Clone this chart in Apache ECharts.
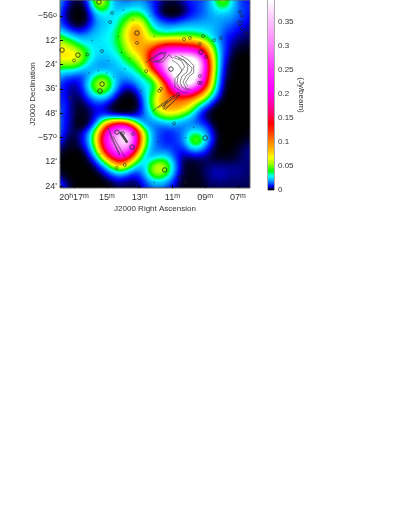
<!DOCTYPE html>
<html>
<head>
<meta charset="utf-8">
<script src="https://cdn.jsdelivr.net/npm/echarts@6/dist/echarts.min.js"></script>
<style>
  html, body { margin: 0; padding: 0; background: #fff; overflow: hidden; }
  #field { position: absolute; left: 60px; top: 0; width: 190px; height: 188px; overflow: hidden; background: #000; }
  #heat { position: absolute; left: -8px; top: -8px; width: 208px; height: 200px; filter: url(#cmap); }
  #main { position: absolute; left: 0; top: 0; width: 407px; height: 527px; }
</style>
</head>
<body>
<div id="field"><div id="heat"></div></div>
<div id="main"></div>
<svg width="0" height="0" style="position:absolute">
  <filter id="cmap" x="-5%" y="-5%" width="110%" height="110%" color-interpolation-filters="sRGB">
    <feGaussianBlur stdDeviation="4"></feGaussianBlur>
    <feComponentTransfer>
      <feFuncR id="fr" type="table"></feFuncR>
      <feFuncG id="fg" type="table"></feFuncG>
      <feFuncB id="fb" type="table"></feFuncB>
    </feComponentTransfer>
  </filter>
</svg>
<script>
// axis ticks
var raTicks = [17, 15, 13, 11, 9, 7];
var raLabels = ['{n|20}{s|h}{n|17}{s|m}', '{n|15}{s|m}', '{n|13}{s|m}', '{n|11}{s|m}', '{n|09}{s|m}', '{n|07}{s|m}'];
var decTicks = [0, 12, 24, 36, 48, 60, 72, 84];   // arcmin south of -56 deg
var decLabels = ['{n|\u221256}{s|o}', "{n|12'}", "{n|24'}", "{n|36'}", "{n|48'}", '{n|\u221257}{s|o}', "{n|12'}", "{n|24'}"];
var barTicks = [0, 0.05, 0.1, 0.15, 0.2, 0.25, 0.3, 0.35];

// colour table of the wedge: [Jy/beam, colour]
var colorStops = [
  [0, '#000000'], [0.002, '#000030'], [0.008, '#0000ff'], [0.019, '#00a0ff'],
  [0.029, '#00ffff'], [0.034, '#00ff80'], [0.040, '#00ff00'], [0.054, '#a0ff00'],
  [0.068, '#ffff00'], [0.082, '#ffc000'], [0.102, '#ff8000'], [0.123, '#ff3000'],
  [0.138, '#ff0000'], [0.158, '#ff0060'], [0.186, '#ff00c0'], [0.21, '#ff00ff'],
  [0.25, '#ff30ff'], [0.30, '#ff80ff'], [0.35, '#ffc0ff'], [0.395, '#ffffff'], [0.5, '#ffffff']
];
var fluxCeil = 0.5;

// flux map in mJy/beam, north row first, east column first
var heatRows = [
  [30,15,5,3,15,65,60,25,15,12,15,15,10,6,4,5,8,12,12,15,40,65,30,12,8,5],
  [30,12,3,1,10,60,65,25,18,18,22,20,12,5,2,2,5,10,12,18,35,50,28,12,10,8],
  [22,8,1,0,5,28,32,26,26,32,35,28,15,3,0,0,2,8,12,18,25,28,22,15,10,8],
  [18,8,1,0,3,18,24,26,32,45,65,50,22,12,8,8,12,15,16,18,20,18,18,13,8,5],
  [22,14,6,3,10,20,25,28,38,70,100,70,35,25,22,24,26,26,25,25,22,16,12,8,6,4],
  [50,35,26,18,20,24,28,30,45,75,105,80,50,40,40,42,42,42,38,30,20,12,8,5,4,3],
  [70,58,48,32,28,26,28,30,42,65,95,85,85,120,135,135,125,120,105,65,30,12,5,3,2,2],
  [80,78,72,60,38,26,26,28,36,55,78,95,155,210,240,255,245,235,195,110,40,12,4,1,1,1],
  [70,68,72,62,35,24,20,24,28,40,50,85,175,270,370,470,500,500,370,150,45,10,2,0,0,0],
  [45,38,42,32,22,18,16,20,24,30,36,55,150,230,380,480,500,500,400,170,45,8,1,0,0,0],
  [26,16,14,11,16,35,45,25,18,22,28,35,50,150,280,460,500,490,330,150,40,6,1,0,0,0],
  [16,9,5,7,28,60,70,40,15,10,18,30,28,60,150,350,480,420,280,125,35,5,0,0,0,0],
  [11,9,4,5,20,45,48,28,8,2,6,25,35,75,115,180,225,195,135,75,25,3,0,0,0,0],
  [9,11,4,2,10,18,20,10,1,0,1,18,45,85,100,105,105,95,65,35,10,1,0,0,0,0],
  [14,13,4,1,3,8,5,1,0,0,1,15,40,80,100,100,85,55,22,8,1,0,0,0,0,0],
  [25,9,5,1,2,8,12,8,6,5,6,14,28,45,55,50,38,25,8,2,0,0,0,0,0,0],
  [25,9,5,0,2,15,75,140,175,140,50,16,14,16,22,20,16,14,14,8,1,0,0,0,0,0],
  [25,9,3,4,15,55,160,270,350,370,200,55,20,12,9,12,16,30,30,16,4,0,0,0,1,1],
  [13,7,1,5,18,65,190,290,380,420,220,65,20,12,8,11,18,55,55,22,5,0,0,1,2,2],
  [7,3,1,3,12,50,160,260,340,340,175,50,18,13,13,10,11,30,30,11,2,0,1,2,5,4],
  [2,1,0,0,6,25,90,180,235,190,90,26,18,24,24,10,4,6,6,4,1,1,1,3,5,4],
  [1,0,0,0,1,8,28,70,115,80,32,22,46,62,48,18,2,1,2,3,4,4,4,4,4,4],
  [2,1,0,0,0,2,8,22,35,22,12,20,58,70,48,16,2,1,2,5,7,6,5,5,4,4],
  [11,5,1,0,0,0,2,5,8,5,4,12,28,32,24,9,1,1,1,4,5,5,4,4,3,3],
  [18,11,2,0,0,0,0,1,3,2,2,8,14,15,11,5,1,1,1,3,3,3,3,3,3,3]
];

// compact sources: [RA minutes past 20h, arcmin south of -56 deg]
var smallSources = [
  [14.68, -1.5], [14.8, 3], [15.29, 17.3], [13.16, 13.3], [12.6, 27.2], [10.29, 11.4], [9.93, 10.8],
  [9.13, 9.9], [9.32, 13.8], [8.46, 11.9], [8.04, 10.9], [8.95, 20.2], [6.76, 6.4], [6.51, 8.5],
  [6.88, -2], [6.76, 0], [9.32, 29.6], [9.38, 33], [9.26, 33], [11.7, 36], [10.66, 38.5],
  [17.24, 40.5], [14.02, 57.8], [13.4, 58.2], [14.4, 75], [13.9, 73.5], [10.9, 53], [10.6, 79.5], [10.2, 82],
  [11.8, 37], [17, 22], [16.2, 19]
];
var largeSources = [
  [15.48, -6.9], [13.16, 8.4], [17.73, 16.8], [16.76, 19.3], [15.29, 33.6], [15.41, 37],
  [11.09, 26.2], [9.26, 17.8], [6.88, 3.5], [14.38, 57.3], [13.46, 64.7], [9.0, 60.2], [11.47, 76]
];
var dotSources = [
  [16.5, 2], [15.9, 12], [14.9, 22], [14.1, 18], [13.6, 21], [13.9, 26], [16.1, 28], [15.5, 27], [15, 28],
  [14.3, 10], [13.4, 2], [14, -3], [12.4, 0], [12.1, 10], [11.4, 14], [12.9, 37], [13.4, 45], [14.6, 30],
  [16.8, 48], [17.1, 38], [8.4, 52], [7.9, 62], [6.4, 56], [9.7, 55], [9.5, 68], [8.2, 75], [11.9, 62],
  [12.8, 48], [10.2, 60], [10.4, 72], [12.1, 82], [14.9, 82], [15.4, 68], [8.6, 42], [7.2, 30], [6.5, 22]
];

// radio contours over the bright regions
var contours = [
  [[10.84, 19.8], [10.54, 20.7], [10.17, 22.7], [9.8, 25.7], [9.87, 27.7], [10.17, 29.6], [10.35, 32.6], [10.17, 35.6], [9.87, 36.5]],
  [[11.02, 21.7], [10.66, 23.7], [10.41, 26.7], [10.66, 29.6], [10.72, 33.6], [10.54, 35.6]],
  [[10.66, 20.7], [10.29, 21.7], [10.05, 24.7], [10.11, 27.7], [10.41, 29.6], [10.54, 32.6], [10.41, 35.1], [10.05, 37]],
  [[10.95, 20.5], [10.45, 22], [10.25, 25], [10.5, 28], [10.85, 31], [10.85, 35], [10.4, 37.5], [10.1, 38]],
  [[10.5, 19.5], [10.05, 21.5], [9.7, 24.5], [9.7, 28], [10.0, 30], [10.2, 33], [10.05, 34.5]],
  [[12.37, 21.7], [12.0, 19.3], [11.63, 17.8], [11.45, 19.8], [11.76, 21.7], [12.18, 22.7], [12.37, 21.7]],
  [[12.12, 20.7], [11.76, 18.8], [11.39, 17.8], [11.51, 20.7], [11.94, 22.7]],
  [[12.6, 23], [12.25, 20.5], [11.9, 23], [11.55, 22.5], [11.2, 19], [11.0, 21]],
  [[11.88, 45.4], [11.45, 43], [11.15, 40.5], [10.84, 39], [11.27, 42.5], [11.63, 44.9], [11.02, 41], [10.54, 39], [11.45, 46.4]],
  [[12.2, 47], [11.75, 44], [11.3, 41.5], [11.55, 46], [11.1, 43.5], [10.7, 40.5]],
  [[14.93, 55.3], [14.74, 58.8], [14.56, 62.2], [14.38, 66.2], [14.2, 68.6], [14.38, 65.2], [14.68, 61.2], [14.8, 57.3]],
  [[14.62, 59.3], [14.32, 63.7], [14.07, 67.2], [13.89, 69.6]]
];
var heavyContour = [[14.2, 57.3], [14.0, 59.5], [13.75, 62.5]];

var barTop = 0.395;

// colour at a given flux, from the wedge stops
function colourAt(v) {
  var i = 1;
  while (i < colorStops.length - 1 && colorStops[i][0] < v) { i++; }
  var a = colorStops[i - 1], b = colorStops[i];
  var t = Math.min(1, Math.max(0, (v - a[0]) / (b[0] - a[0])));
  var out = [];
  for (var k = 0; k < 3; k++) {
    var c0 = parseInt(a[1].substr(1 + k * 2, 2), 16);
    var c1 = parseInt(b[1].substr(1 + k * 2, 2), 16);
    out.push((c0 + (c1 - c0) * t) / 255);
  }
  return out;
}

// the grey heatmap (sqrt of flux) is blurred then recoloured by this table
var tableR = [], tableG = [], tableB = [];
for (var n = 0; n <= 255; n++) {
  var rgb = colourAt(fluxCeil * Math.pow(n / 255, 2));
  tableR.push(rgb[0].toFixed(3));
  tableG.push(rgb[1].toFixed(3));
  tableB.push(rgb[2].toFixed(3));
}
document.getElementById('fr').setAttribute('tableValues', tableR.join(' '));
document.getElementById('fg').setAttribute('tableValues', tableG.join(' '));
document.getElementById('fb').setAttribute('tableValues', tableB.join(' '));

var heatData = [];
heatRows.forEach(function (row, j) {
  row.forEach(function (v, i) {
    heatData.push([i, j, Math.sqrt(v / 1000 / fluxCeil)]);
  });
});
var colIds = heatRows[0].map(function (v, i) { return i; });
var rowIds = heatRows.map(function (r, j) { return j; });

var heat = echarts.init(document.getElementById('heat'));
heat.setOption({
  animation: false,
  grid: { left: 0, right: 0, top: 0, bottom: 0 },
  xAxis: { type: 'category', data: colIds, show: false },
  yAxis: { type: 'category', data: rowIds, inverse: true, show: false },
  visualMap: { show: false, min: 0, max: 1, inRange: { color: ['#000000', '#ffffff'] } },
  series: [{ type: 'heatmap', data: heatData, progressive: 0, itemStyle: { borderWidth: 0 } }]
});

var sans = '"Liberation Sans", Arial, sans-serif';
var ink = '#333';
var richLabel = {
  n: { fontSize: 9, fontFamily: sans, color: ink },
  s: { fontSize: 7, fontFamily: sans, color: ink, verticalAlign: 'top', lineHeight: 9 }
};

function contourSeries(pts, width, colour) {
  return {
    type: 'line', data: pts, symbol: 'none', silent: true, clip: true,
    lineStyle: { color: colour, width: width }, xAxisIndex: 0, yAxisIndex: 0
  };
}
var series = contours.map(function (pts) { return contourSeries(pts, 0.6, '#333'); });
series.push(contourSeries(heavyContour, 2.5, '#444'));
series.push({
  type: 'scatter', data: smallSources, symbolSize: 3,
  itemStyle: { color: 'rgba(0,0,0,0)', borderColor: '#222', borderWidth: 0.7 }
});
series.push({
  type: 'scatter', data: largeSources, symbolSize: 4.5,
  itemStyle: { color: 'rgba(0,0,0,0)', borderColor: '#222', borderWidth: 1 }
});
series.push({
  type: 'scatter', data: dotSources, symbolSize: 1.2,
  itemStyle: { color: '#222' }
});
// wedge
series.push({
  type: 'bar', data: [barTop], xAxisIndex: 1, yAxisIndex: 1, barWidth: '100%', silent: true,
  itemStyle: {
    color: new echarts.graphic.LinearGradient(0, 1, 0, 0, colorStops.map(function (s) {
      return { offset: Math.min(1, s[0] / barTop), color: s[1] };
    }))
  }
});

var chart = echarts.init(document.getElementById('main'));
chart.setOption({
  animation: false,
  backgroundColor: 'transparent',
  grid: [
    { left: 60, top: 0, width: 190, height: 188, show: true, borderColor: '#666', borderWidth: 1, backgroundColor: 'transparent' },
    { left: 268, top: 0, width: 6, height: 190, show: true, borderColor: '#555', borderWidth: 1, backgroundColor: 'transparent' }
  ],
  xAxis: [{
    type: 'value', gridIndex: 0, min: 6.268, max: 17.854, inverse: true,
    splitLine: { show: false }, axisLine: { show: false, onZero: false },
    axisTick: { inside: true, length: 3, lineStyle: { color: '#000' }, customValues: raTicks },
    axisLabel: {
      customValues: raTicks, margin: 5, rich: richLabel,
      formatter: function (v) { return raLabels[raTicks.indexOf(v)]; }
    },
    name: 'J2000 Right Ascension', nameLocation: 'middle', nameGap: 17, nameMoveOverlap: false,
    nameTextStyle: { fontSize: 8, fontFamily: sans, color: ink }
  }, {
    type: 'category', gridIndex: 1, data: ['f'], show: false
  }],
  yAxis: [{
    type: 'value', gridIndex: 0, min: -7.9, max: 84.9, inverse: true,
    splitLine: { show: false }, axisLine: { show: false, onZero: false },
    axisTick: { inside: true, length: 3, lineStyle: { color: '#000' }, customValues: decTicks },
    axisLabel: {
      customValues: decTicks, margin: 3, rich: richLabel,
      formatter: function (v) { return decLabels[decTicks.indexOf(v)]; }
    },
    name: 'J2000 Declination', nameLocation: 'middle', nameGap: 23, nameMoveOverlap: false,
    nameTextStyle: { fontSize: 8, fontFamily: sans, color: ink }
  }, {
    type: 'value', gridIndex: 1, position: 'right', min: 0, max: barTop,
    splitLine: { show: false }, axisLine: { show: false },
    axisTick: { inside: true, length: 2, lineStyle: { color: '#333' }, customValues: barTicks },
    axisLabel: {
      customValues: barTicks, margin: 4, fontSize: 8, fontFamily: sans, color: ink,
      formatter: function (v) { return String(v); }
    },
    name: '(Jy/beam)', nameLocation: 'middle', nameGap: 23, nameRotate: -90, nameMoveOverlap: false,
    nameTextStyle: { fontSize: 8, fontFamily: sans, color: ink }
  }],
  series: series
});
</script>
</body>
</html>
